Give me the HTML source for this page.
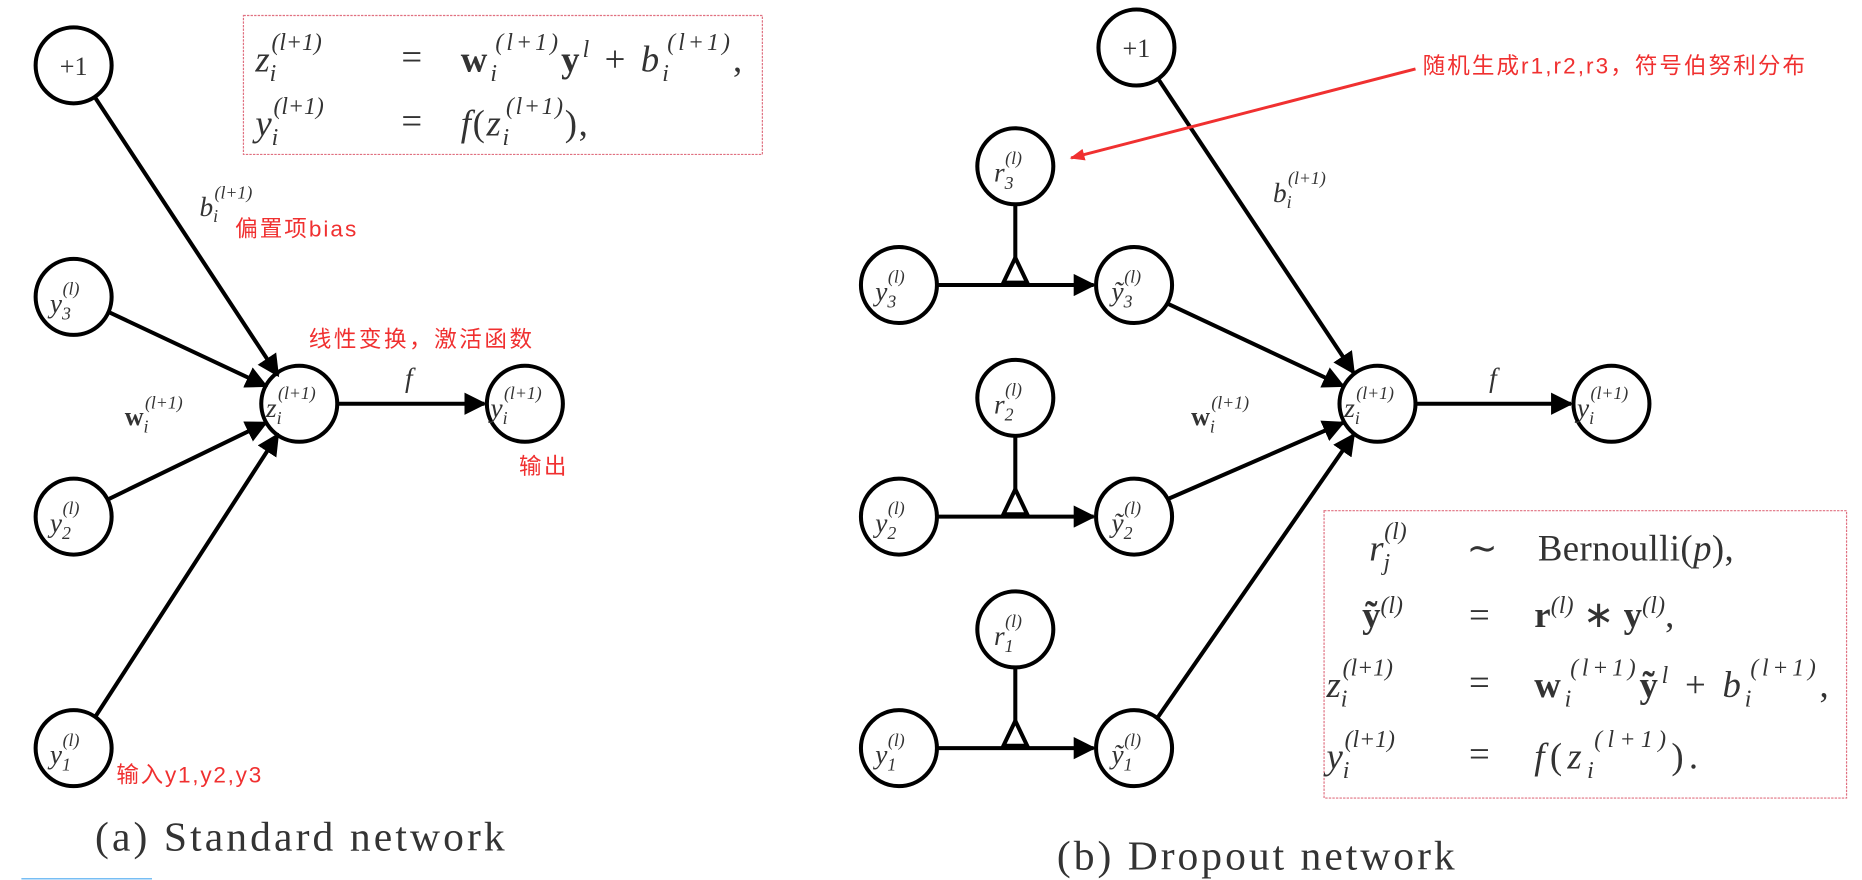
<!DOCTYPE html>
<html><head><meta charset="utf-8"><style>
html,body{margin:0;padding:0;background:#fff;}
svg{display:block}
.m{font-family:"Liberation Serif",serif;font-style:italic;fill:#333}
.r{font-family:"Liberation Serif",serif;fill:#333}
.cn{font-family:"Liberation Sans","Noto Sans CJK SC",sans-serif;fill:#f03030;font-size:19px}
</style></head><body>
<svg width="1862" height="880" viewBox="0 0 1568 741" xmlns="http://www.w3.org/2000/svg">
<defs>
<marker id="a" viewBox="0 0 10 10" refX="9" refY="5" markerWidth="5.5" markerHeight="5.5" orient="auto"><path d="M0,0L10,5L0,10z" fill="#000"/></marker>
<marker id="ra" viewBox="0 0 10 10" refX="9" refY="5" markerWidth="5" markerHeight="5" orient="auto"><path d="M0,1L10,5L0,9z" fill="#f03030"/></marker>
</defs>
<g stroke="#000" stroke-width="3.4" fill="none">
<circle cx="62" cy="55" r="32"/><circle cx="62" cy="250" r="32"/><circle cx="62" cy="435" r="32"/><circle cx="62" cy="630" r="32"/>
<circle cx="252" cy="340" r="32"/><circle cx="442" cy="340" r="32"/>
<line x1="80" y1="82" x2="234" y2="316" marker-end="url(#a)"/>
<line x1="92" y1="263" x2="224" y2="325" marker-end="url(#a)"/>
<line x1="92" y1="420" x2="224" y2="356" marker-end="url(#a)"/>
<line x1="80" y1="604" x2="234" y2="366" marker-end="url(#a)"/>
<line x1="284" y1="340" x2="408" y2="340" marker-end="url(#a)"/>
<circle cx="957" cy="40" r="32"/>
<circle cx="855" cy="140" r="32"/><circle cx="855" cy="335" r="32"/><circle cx="855" cy="530" r="32"/>
<circle cx="757" cy="240" r="32"/><circle cx="757" cy="435" r="32"/><circle cx="757" cy="630" r="32"/>
<circle cx="955" cy="240" r="32"/><circle cx="955" cy="435" r="32"/><circle cx="955" cy="630" r="32"/>
<circle cx="1160" cy="340" r="32"/><circle cx="1357" cy="340" r="32"/>
<g>
<line x1="789" y1="240" x2="921" y2="240" marker-end="url(#a)"/><line x1="855" y1="172" x2="855" y2="217"/><path d="M855,217L845,238L865,238z"/>
<line x1="789" y1="435" x2="921" y2="435" marker-end="url(#a)"/><line x1="855" y1="367" x2="855" y2="412"/><path d="M855,412L845,433L865,433z"/>
<line x1="789" y1="630" x2="921" y2="630" marker-end="url(#a)"/><line x1="855" y1="562" x2="855" y2="607"/><path d="M855,607L845,628L865,628z"/>
</g>
<line x1="975" y1="66" x2="1140" y2="314" marker-end="url(#a)"/>
<line x1="984" y1="256" x2="1131" y2="325" marker-end="url(#a)"/>
<line x1="984" y1="420" x2="1131" y2="356" marker-end="url(#a)"/>
<line x1="975" y1="604" x2="1140" y2="366" marker-end="url(#a)"/>
<line x1="1192" y1="340" x2="1323" y2="340" marker-end="url(#a)"/>
</g>
<rect x="205" y="13" width="437" height="117" fill="none" stroke="#e07080" stroke-width="1" stroke-dasharray="2,1"/>
<rect x="1115" y="430" width="440" height="242" fill="none" stroke="#e07080" stroke-width="1" stroke-dasharray="2,1"/>
<g class="r" font-size="22" text-anchor="middle"><text x="62" y="63">+1</text><text x="957" y="48">+1</text></g>
<g class="m" font-size="23">
<text x="42" y="263">y<tspan font-size="15" dy="6">3</tspan><tspan font-size="15" dy="-21" dx="-7">(l)</tspan></text>
<text x="42" y="448">y<tspan font-size="15" dy="6">2</tspan><tspan font-size="15" dy="-21" dx="-7">(l)</tspan></text>
<text x="42" y="643">y<tspan font-size="15" dy="6">1</tspan><tspan font-size="15" dy="-21" dx="-7">(l)</tspan></text>
<text x="224" y="351">z<tspan font-size="15" dy="6">i</tspan><tspan font-size="15" dy="-21" dx="-3">(l+1)</tspan></text>
<text x="413" y="351">y<tspan font-size="15" dy="6">i</tspan><tspan font-size="15" dy="-21" dx="-3">(l+1)</tspan></text>
<text x="737" y="253">y<tspan font-size="15" dy="6">3</tspan><tspan font-size="15" dy="-21" dx="-7">(l)</tspan></text>
<text x="737" y="448">y<tspan font-size="15" dy="6">2</tspan><tspan font-size="15" dy="-21" dx="-7">(l)</tspan></text>
<text x="737" y="643">y<tspan font-size="15" dy="6">1</tspan><tspan font-size="15" dy="-21" dx="-7">(l)</tspan></text>
<text x="936" y="253">ỹ<tspan font-size="15" dy="6">3</tspan><tspan font-size="15" dy="-21" dx="-7">(l)</tspan></text>
<text x="936" y="448">ỹ<tspan font-size="15" dy="6">2</tspan><tspan font-size="15" dy="-21" dx="-7">(l)</tspan></text>
<text x="936" y="643">ỹ<tspan font-size="15" dy="6">1</tspan><tspan font-size="15" dy="-21" dx="-7">(l)</tspan></text>
<text x="837" y="153">r<tspan font-size="15" dy="6">3</tspan><tspan font-size="15" dy="-21" dx="-7">(l)</tspan></text>
<text x="837" y="348">r<tspan font-size="15" dy="6">2</tspan><tspan font-size="15" dy="-21" dx="-7">(l)</tspan></text>
<text x="837" y="543">r<tspan font-size="15" dy="6">1</tspan><tspan font-size="15" dy="-21" dx="-7">(l)</tspan></text>
<text x="1132" y="351">z<tspan font-size="15" dy="6">i</tspan><tspan font-size="15" dy="-21" dx="-3">(l+1)</tspan></text>
<text x="1328" y="351">y<tspan font-size="15" dy="6">i</tspan><tspan font-size="15" dy="-21" dx="-3">(l+1)</tspan></text>
<text x="168" y="182">b<tspan font-size="15" dy="5">i</tspan><tspan font-size="15" dy="-20" dx="-3">(l+1)</tspan></text>
<text x="1072" y="170">b<tspan font-size="15" dy="5">i</tspan><tspan font-size="15" dy="-20" dx="-3">(l+1)</tspan></text>
<text x="341" y="326">f</text><text x="1254" y="326">f</text>
</g>
<g class="r" font-size="22" font-weight="bold">
<text x="105" y="358">w<tspan font-size="15" font-weight="normal" font-style="italic" dy="6">i</tspan><tspan font-size="15" font-weight="normal" font-style="italic" dy="-20" dx="-3">(l+1)</tspan></text>
<text x="1003" y="358">w<tspan font-size="15" font-weight="normal" font-style="italic" dy="6">i</tspan><tspan font-size="15" font-weight="normal" font-style="italic" dy="-20" dx="-3">(l+1)</tspan></text>
</g>
<g class="m" font-size="31">
<text x="215" y="60">z<tspan font-size="20" dy="8">i</tspan><tspan font-size="20" dy="-26" dx="-4">(l+1)</tspan></text>
<text x="215" y="114">y<tspan font-size="20" dy="8">i</tspan><tspan font-size="20" dy="-26" dx="-4">(l+1)</tspan></text>
<text x="338" y="58" font-style="normal">=</text><text x="338" y="112" font-style="normal">=</text>
<text x="388" y="60" textLength="237" lengthAdjust="spacing"><tspan font-weight="bold" font-style="normal">w</tspan><tspan font-size="20" dy="8">i</tspan><tspan font-size="20" dy="-26" dx="-4">(l+1)</tspan><tspan dy="18" font-weight="bold" font-style="normal">y</tspan><tspan font-size="20" dy="-12">l</tspan><tspan dy="12" font-style="normal"> + </tspan>b<tspan font-size="20" dy="8">i</tspan><tspan font-size="20" dy="-26" dx="-4">(l+1)</tspan><tspan dy="18" font-style="normal">,</tspan></text>
<text x="388" y="114" textLength="107" lengthAdjust="spacing">f<tspan font-style="normal">(</tspan>z<tspan font-size="20" dy="8">i</tspan><tspan font-size="20" dy="-26" dx="-4">(l+1)</tspan><tspan dy="18" font-style="normal">),</tspan></text>
</g>
<g class="m" font-size="31">
<text x="1153" y="472">r<tspan font-size="20" dy="8">j</tspan><tspan font-size="20" dy="-26" dx="-5">(l)</tspan></text>
<text x="1147" y="528"><tspan font-weight="bold" font-style="normal">ỹ</tspan><tspan font-size="20" dy="-12">(l)</tspan></text>
<text x="1117" y="587">z<tspan font-size="20" dy="8">i</tspan><tspan font-size="20" dy="-26" dx="-4">(l+1)</tspan></text>
<text x="1117" y="647">y<tspan font-size="20" dy="8">i</tspan><tspan font-size="20" dy="-26" dx="-4">(l+1)</tspan></text>
<g font-style="normal"><text x="1235" y="472">∼</text><text x="1237" y="528">=</text><text x="1237" y="585">=</text><text x="1237" y="645">=</text></g>
<text x="1295" y="472" font-style="normal" textLength="165" lengthAdjust="spacing">Bernoulli(<tspan font-style="italic">p</tspan>),</text>
<text x="1292" y="528" font-style="normal" textLength="118" lengthAdjust="spacing"><tspan font-weight="bold">r</tspan><tspan font-size="20" font-style="italic" dy="-12">(l)</tspan><tspan dy="12"> ∗ </tspan><tspan font-weight="bold">y</tspan><tspan font-size="20" font-style="italic" dy="-12">(l)</tspan><tspan dy="12">,</tspan></text>
<text x="1292" y="587" textLength="248" lengthAdjust="spacing"><tspan font-weight="bold" font-style="normal">w</tspan><tspan font-size="20" dy="8">i</tspan><tspan font-size="20" dy="-26" dx="-4">(l+1)</tspan><tspan dy="18" font-weight="bold" font-style="normal">ỹ</tspan><tspan font-size="20" dy="-12">l</tspan><tspan dy="12" font-style="normal"> + </tspan>b<tspan font-size="20" dy="8">i</tspan><tspan font-size="20" dy="-26" dx="-4">(l+1)</tspan><tspan dy="18" font-style="normal">,</tspan></text>
<text x="1292" y="647" textLength="138" lengthAdjust="spacing">f<tspan font-style="normal">(</tspan>z<tspan font-size="20" dy="8">i</tspan><tspan font-size="20" dy="-26" dx="-4">(l+1)</tspan><tspan dy="18" font-style="normal">).</tspan></text>
</g>
<text class="cn" x="198" y="199" textLength="102">偏置项bias</text>
<text class="cn" x="260" y="292" textLength="188">线性变换，激活函数</text>
<text class="cn" x="437" y="399" textLength="40">输出</text>
<text class="cn" x="98" y="659" textLength="122">输入y1,y2,y3</text>
<text class="cn" x="1198" y="62" textLength="322">随机生成r1,r2,r3，符号伯努利分布</text>
<line x1="1192" y1="58" x2="902" y2="133" stroke="#f03030" stroke-width="2.5" marker-end="url(#ra)"/>
<text class="r" x="80" y="716" font-size="35" textLength="345" lengthAdjust="spacing">(a) Standard network</text>
<text class="r" x="890" y="732" font-size="35" textLength="335" lengthAdjust="spacing">(b) Dropout network</text>
<text x="1428" y="757" font-family="Liberation Sans,sans-serif" font-size="15" fill="#999">CSDN @boss-dog</text>
<line x1="18" y1="740" x2="128" y2="740" stroke="#4aa8f0" stroke-width="1"/>
</svg>
</body></html>
